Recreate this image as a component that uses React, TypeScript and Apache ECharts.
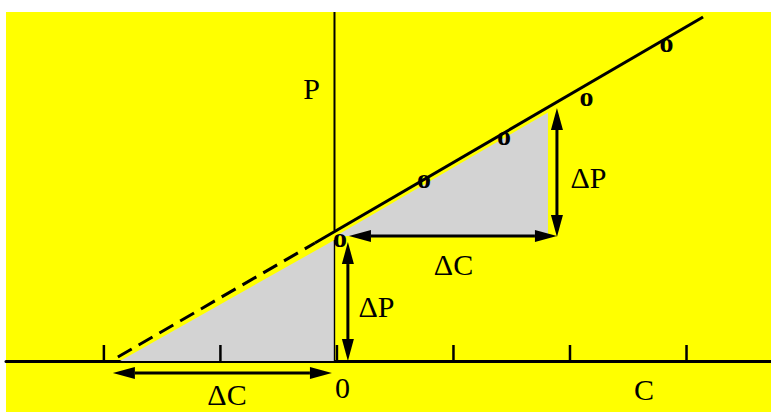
import React, { useEffect, useRef } from "react";
import * as echarts from "echarts";

// Axis ranges (one unit = one tick spacing on C)
const xMin = -2.84;
const xMax = 3.725;
const yMin = -0.438;
const yMax = 2.996;

// Tick marks on the C axis
const tickValues = [-2, -1, 0, 1, 2, 3];

// The straight line P = a + b·C (solid part and dashed extrapolation)
const solidLine = [
  [-0.189, 1.013],
  [3.142, 2.953],
];
const dashedLine = [
  [-1.88, 0.034],
  [-0.189, 1.013],
];

// Observed points, drawn as "o"
const pointsC = [0.026, 0.747, 1.433, 2.142, 2.828];
const pointsP = [1.033, 1.539, 1.906, 2.249, 2.708];

// Shaded triangles
const shadeLeft = [
  [-1.862, 0],
  [-0.021, 0],
  [-0.021, 1.039],
];
const shadeRight = [
  [-0.01, 1.073],
  [1.811, 2.133],
  [1.811, 1.073],
];
const triangles = [shadeLeft, shadeRight];

// Vertical P axis
const pAxisX = -0.021;
const pAxisUpper = [
  [pAxisX, 1.12],
  [pAxisX, yMax],
];

// Double-headed arrows [x1, y1, x2, y2]
const arrowDeltaCUpper = [0.103, 1.073, 1.888, 1.073];
const arrowDeltaPRight = [1.888, 2.172, 1.888, 1.064];
const arrowDeltaPLower = [0.094, 1.021, 0.094, 0.0];
const arrowDeltaCLower = [-1.923, -0.103, -0.043, -0.103];
const arrows = [arrowDeltaCUpper, arrowDeltaPRight, arrowDeltaPLower, arrowDeltaCLower];

// Text labels
const labelTexts = ["P", "ΔP", "ΔC", "ΔP", "ΔC", "0", "C"];
const labelPos = [
  [311.5, 88.5],
  [588.5, 177],
  [453.5, 264],
  [376.5, 306],
  [227, 394],
  [342.5, 387.5],
  [644, 389],
];

const serif = "'Liberation Serif', 'Times New Roman', serif";

export default function App() {
  const ref = useRef<HTMLDivElement>(null);

  useEffect(() => {
    if (!ref.current) return;
    const chart = echarts.init(ref.current, undefined, { renderer: "svg" });

    const headLen = 22;
    const headHalf = 6;

    const option: any = {
      animation: false,
      grid: {
        left: 6,
        top: 12,
        right: 0,
        bottom: 0,
        show: true,
        backgroundColor: "#ffff00",
        borderWidth: 0,
      },
      xAxis: {
        type: "value",
        min: xMin,
        max: xMax,
        axisLine: { show: true, onZero: true, lineStyle: { color: "#000", width: 3 } },
        axisTick: { show: false },
        axisLabel: { show: false },
        splitLine: { show: false },
      },
      yAxis: {
        type: "value",
        min: yMin,
        max: yMax,
        axisLine: { show: false },
        axisTick: { show: false },
        axisLabel: { show: false },
        splitLine: { show: false },
      },
      series: [
        {
          type: "custom",
          z: 1,
          data: triangles.map((_, i) => [i]),
          renderItem: (_params: any, api: any) => {
            const idx = api.value(0);
            const pts = triangles[idx].map((p) => api.coord(p));
            const children: any[] = [
              {
                type: "polygon",
                shape: { points: pts },
                style: { fill: "#d3d3d3", stroke: null },
              },
            ];
            if (idx === 0) {
              children.push({
                type: "line",
                shape: { x1: pts[1][0], y1: pts[1][1], x2: pts[2][0], y2: pts[2][1] },
                style: { stroke: "#000", lineWidth: 1.4 },
              });
            }
            return { type: "group", children };
          },
        },
        {
          type: "line",
          z: 3,
          data: solidLine,
          symbol: "none",
          lineStyle: { color: "#000", width: 3 },
        },
        {
          type: "line",
          z: 3,
          data: dashedLine,
          symbol: "none",
          lineStyle: { color: "#000", width: 3, type: [16, 8] },
        },
        {
          type: "line",
          z: 3,
          data: pAxisUpper,
          symbol: "none",
          lineStyle: { color: "#000", width: 2 },
        },
        {
          type: "custom",
          z: 4,
          data: tickValues.map((v) => [v, 0]),
          renderItem: (_params: any, api: any) => {
            const p = api.coord([api.value(0), api.value(1)]);
            return {
              type: "line",
              shape: { x1: p[0], y1: p[1], x2: p[0], y2: p[1] - 16 },
              style: { stroke: "#000", lineWidth: 2.5 },
            };
          },
        },
        {
          type: "custom",
          z: 5,
          data: arrows,
          renderItem: (_params: any, api: any) => {
            const a = api.coord([api.value(0), api.value(1)]);
            const b = api.coord([api.value(2), api.value(3)]);
            const dx = b[0] - a[0];
            const dy = b[1] - a[1];
            const len = Math.sqrt(dx * dx + dy * dy) || 1;
            const ux = dx / len;
            const uy = dy / len;
            const nx = -uy;
            const ny = ux;
            const aBase = [a[0] + ux * headLen, a[1] + uy * headLen];
            const bBase = [b[0] - ux * headLen, b[1] - uy * headLen];
            return {
              type: "group",
              children: [
                {
                  type: "line",
                  shape: { x1: aBase[0], y1: aBase[1], x2: bBase[0], y2: bBase[1] },
                  style: { stroke: "#000", lineWidth: 3 },
                },
                {
                  type: "polygon",
                  shape: {
                    points: [
                      a,
                      [aBase[0] + nx * headHalf, aBase[1] + ny * headHalf],
                      [aBase[0] - nx * headHalf, aBase[1] - ny * headHalf],
                    ],
                  },
                  style: { fill: "#000" },
                },
                {
                  type: "polygon",
                  shape: {
                    points: [
                      b,
                      [bBase[0] + nx * headHalf, bBase[1] + ny * headHalf],
                      [bBase[0] - nx * headHalf, bBase[1] - ny * headHalf],
                    ],
                  },
                  style: { fill: "#000" },
                },
              ],
            };
          },
        },
        {
          type: "custom",
          z: 6,
          data: pointsC.map((c, i) => [c, pointsP[i]]),
          renderItem: (_params: any, api: any) => {
            const p = api.coord([api.value(0), api.value(1)]);
            return {
              type: "text",
              x: p[0],
              y: p[1] - 3,
              style: {
                text: "o",
                fill: "#000",
                font: `bold 28px ${serif}`,
                align: "center",
                verticalAlign: "middle",
              },
            };
          },
        },
      ],
      graphic: labelTexts.map((t, i) => ({
        type: "text",
        x: labelPos[i][0],
        y: labelPos[i][1],
        z: 10,
        style: {
          text: t,
          fill: "#000",
          font: `30px ${serif}`,
          align: "center",
          verticalAlign: "middle",
        },
      })),
    };

    chart.setOption(option);
    return () => chart.dispose();
  }, []);

  return (
    <div
      ref={ref}
      style={{ position: "absolute", left: 0, top: 0, width: 771, height: 412 }}
    />
  );
}
